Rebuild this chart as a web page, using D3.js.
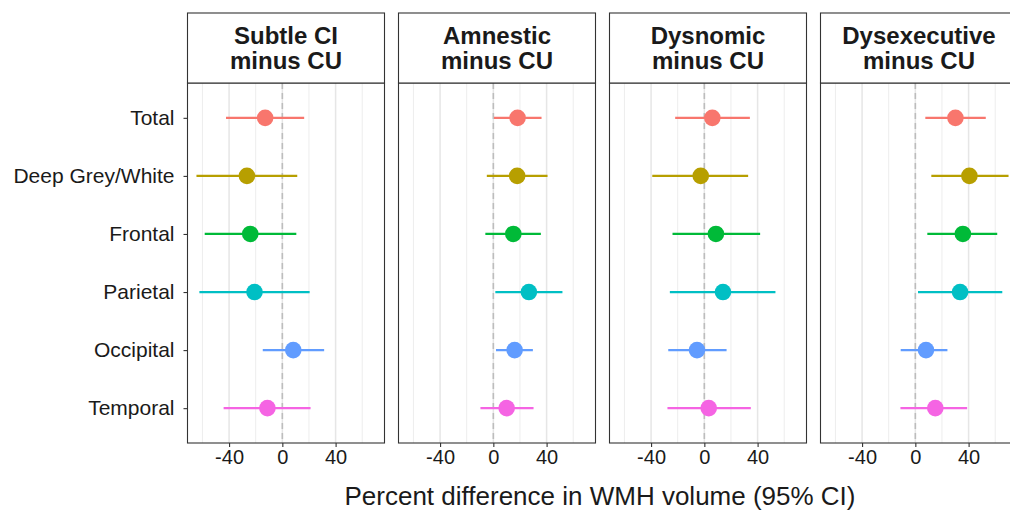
<!DOCTYPE html>
<html>
<head>
<meta charset="utf-8">
<script src="https://cdn.jsdelivr.net/npm/d3@7"></script>
<style>
  html, body { margin: 0; padding: 0; background: #fff; }
  svg { display: block; font-family: "Liberation Sans", Arial, Helvetica, sans-serif; }
</style>
</head>
<body>
<svg id="chart" width="1010" height="510"></svg>
<script>
// ---- data ----
const regions = ["Total", "Deep Grey/White", "Frontal", "Parietal", "Occipital", "Temporal"];
const panels = [["Subtle CI", "minus CU"], ["Amnestic", "minus CU"], ["Dysnomic", "minus CU"], ["Dysexecutive", "minus CU"]];
const colors = ["#F8766D", "#B79F00", "#00BA38", "#00BFC4", "#619CFF", "#F564E3"];
const xTicks = [-40, 0, 40];
const xTickLabels = ["-40", "0", "40"];
const xMinor = [-60, -20, 20, 60];

// point estimates per panel (rows follow `regions`)
const estSubtle = [-12.9, -26.6, -24.1, -20.9, 8.2, -11.2];
const lowSubtle = [-42.3, -64.5, -58.3, -62.3, -14.7, -44.1];
const highSubtle = [16.4, 11.2, 10.5, 20.5, 31.4, 21.2];

const estAmnestic = [18.2, 17.9, 15.0, 26.7, 16.0, 10.0];
const lowAmnestic = [0.5, -4.9, -6.0, 1.5, 2.0, -9.7];
const highAmnestic = [36.2, 40.7, 35.7, 51.9, 29.7, 30.2];

const estDysnomic = [6.0, -2.7, 8.7, 14.0, -5.5, 3.3];
const lowDysnomic = [-21.9, -39.1, -23.9, -25.9, -27.1, -27.7];
const highDysnomic = [34.2, 32.9, 41.9, 53.4, 16.7, 34.9];

const estDysexec = [30.1, 40.6, 35.7, 33.6, 8.0, 15.0];
const lowDysexec = [7.5, 12.0, 9.0, 2.0, -11.0, -11.2];
const highDysexec = [52.9, 70.0, 61.5, 65.3, 24.1, 38.9];

const panelEst = [estSubtle, estAmnestic, estDysnomic, estDysexec];
const panelLow = [lowSubtle, lowAmnestic, lowDysnomic, lowDysexec];
const panelHigh = [highSubtle, highAmnestic, highDysnomic, highDysexec];

// ---- layout ----
const svg = d3.select("#chart");
const panelLeft0 = 187.5, panelW = 197, panelStep = 211;
const stripTop = 13, panelTop = 83, panelBottom = 443;

const allLow = d3.min(panelLow.flat()), allHigh = d3.max(panelHigh.flat());
const pad = (allHigh - allLow) * 0.05;
const x = d3.scaleLinear().domain([allLow - pad, allHigh + pad]).range([0, panelW]);

// discrete y with ggplot-like expansion (0.6 units each side)
const yIdx = d3.scaleLinear().domain([1 - 0.6, regions.length + 0.6]).range([panelTop, panelBottom]);
const y = r => yIdx(regions.indexOf(r) + 1);

panels.forEach((title, p) => {
  const g = svg.append("g").attr("transform", `translate(${panelLeft0 + p * panelStep},0)`);

  g.append("rect").attr("x", 0).attr("y", panelTop).attr("width", panelW).attr("height", panelBottom - panelTop)
    .attr("fill", "#fff");

  // minor grid
  g.selectAll(".minor").data(xMinor).join("line")
    .attr("x1", d => x(d)).attr("x2", d => x(d))
    .attr("y1", panelTop).attr("y2", panelBottom)
    .attr("stroke", "#EDEDED").attr("stroke-width", 1);
  // major grid
  g.selectAll(".major").data(xTicks).join("line")
    .attr("x1", d => x(d)).attr("x2", d => x(d))
    .attr("y1", panelTop).attr("y2", panelBottom)
    .attr("stroke", "#E6E6E6").attr("stroke-width", 1.5);

  // zero reference line
  g.append("line").attr("x1", x(0)).attr("x2", x(0)).attr("y1", panelTop).attr("y2", panelBottom)
    .attr("stroke", "#BDBDBD").attr("stroke-width", 1.6).attr("stroke-dasharray", "6,4");

  const rows = regions.map((r, i) => ({ r, i, est: panelEst[p][i], lo: panelLow[p][i], hi: panelHigh[p][i] }));

  g.selectAll(".ci").data(rows).join("line")
    .attr("x1", d => x(d.lo)).attr("x2", d => x(d.hi))
    .attr("y1", d => y(d.r)).attr("y2", d => y(d.r))
    .attr("stroke", d => colors[d.i]).attr("stroke-width", 2.2);

  g.selectAll(".pt").data(rows).join("circle")
    .attr("cx", d => x(d.est)).attr("cy", d => y(d.r)).attr("r", 8.3)
    .attr("fill", d => colors[d.i]);

  g.append("rect").attr("x", 0).attr("y", panelTop).attr("width", panelW).attr("height", panelBottom - panelTop)
    .attr("fill", "none").attr("stroke", "#333").attr("stroke-width", 1.1);

  // strip
  g.append("rect").attr("x", 0).attr("y", stripTop).attr("width", panelW).attr("height", panelTop - stripTop)
    .attr("fill", "#fff").attr("stroke", "#333").attr("stroke-width", 1.1);
  const st = g.append("text").attr("text-anchor", "middle").attr("font-weight", "bold")
    .attr("font-size", 24).attr("fill", "#1a1a1a");
  st.append("tspan").attr("x", panelW / 2).attr("y", 43.5).text(title[0]);
  st.append("tspan").attr("x", panelW / 2).attr("y", 69).text(title[1]);

  // x axis
  const ax = g.append("g").attr("transform", `translate(0,${panelBottom})`)
    .call(d3.axisBottom(x).tickValues(xTicks).tickFormat((d, i) => xTickLabels[i])
      .tickSize(4).tickSizeOuter(0).tickPadding(3));
  ax.select(".domain").remove();
  ax.selectAll(".tick line").attr("stroke", "#333").attr("stroke-width", 1.1);
  ax.selectAll(".tick text").attr("font-size", 20).attr("fill", "#1a1a1a")
    .attr("font-family", "Liberation Sans, Arial, sans-serif");
});

// y axis (left panel only)
const yBand = d3.scalePoint().domain(regions).range([y(regions[0]), y(regions[regions.length - 1])]);
const ay = svg.append("g").attr("transform", `translate(${panelLeft0},0)`)
  .call(d3.axisLeft(yBand).tickSize(4).tickSizeOuter(0).tickPadding(9));
ay.select(".domain").remove();
ay.selectAll(".tick line").attr("stroke", "#333").attr("stroke-width", 1.1);
ay.selectAll(".tick text").attr("font-size", 21).attr("fill", "#1a1a1a")
  .attr("font-family", "Liberation Sans, Arial, sans-serif");

// axis title
svg.append("text").attr("x", 600).attr("y", 505).attr("text-anchor", "middle")
  .attr("font-size", 26).attr("fill", "#1a1a1a")
  .text("Percent difference in WMH volume (95% CI)");
</script>
</body>
</html>
